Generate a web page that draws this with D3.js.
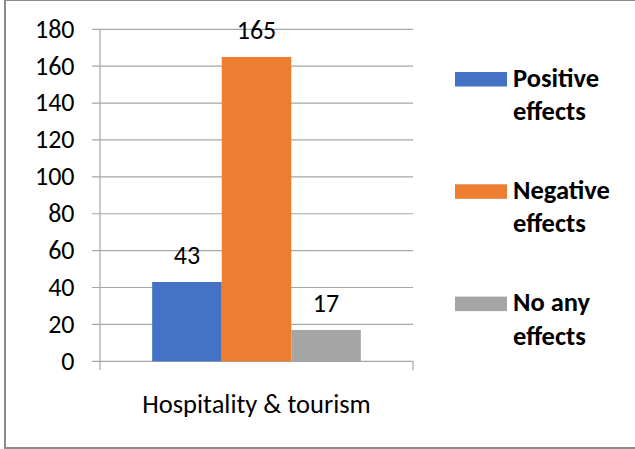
<!DOCTYPE html>
<html>
<head>
<meta charset="utf-8">
<script src="https://cdn.jsdelivr.net/npm/d3@7"></script>
<style>
  body { margin: 0; background: #fff; }
  svg text { font-family: Carlito, Lato, "Open Sans", sans-serif; fill: #000; }
</style>
</head>
<body>
<svg id="chart"></svg>
<script>
// Data
const categories = ["Hospitality & tourism"];
const seriesNames = ["Positive effects", "Negative effects", "No any effects"];
const seriesColors = ["#4472c4", "#ed7d31", "#a5a5a5"];
const seriesValues = [43, 165, 17];
const yTicks = [0, 20, 40, 60, 80, 100, 120, 140, 160, 180];

const width = 635;
const height = 449;

const svg = d3.select("#chart")
  .attr("width", width)
  .attr("height", height);

// Outer frame (right edge cropped off in the original)
svg.append("rect")
  .attr("x", 5)
  .attr("y", 0)
  .attr("width", 640)
  .attr("height", 448)
  .attr("fill", "none")
  .attr("stroke", "#8c8c8c")
  .attr("stroke-width", 2);

const plotLeft = 100, plotRight = 413, plotTop = 29.3, plotBottom = 361.3;

const y = d3.scaleLinear().domain([0, 180]).range([plotBottom, plotTop]);
const x0 = d3.scaleBand().domain(categories).range([plotLeft, plotRight]).paddingInner(0).paddingOuter(0.25);
const x1 = d3.scaleBand().domain(seriesNames).range([0, x0.bandwidth()]).padding(0);

// Gridlines + y tick marks
svg.append("g")
  .selectAll("line")
  .data(yTicks)
  .join("line")
  .attr("x1", plotLeft - 8)
  .attr("x2", plotRight)
  .attr("y1", d => y(d))
  .attr("y2", d => y(d))
  .attr("stroke", "#a6a6a6")
  .attr("stroke-width", 1.2);

// Y axis line
svg.append("line")
  .attr("x1", plotLeft).attr("x2", plotLeft)
  .attr("y1", plotTop).attr("y2", plotBottom + 9)
  .attr("stroke", "#a6a6a6").attr("stroke-width", 1.2);

// Right end tick on the category axis
svg.append("line")
  .attr("x1", plotRight).attr("x2", plotRight)
  .attr("y1", plotBottom).attr("y2", plotBottom + 9)
  .attr("stroke", "#a6a6a6").attr("stroke-width", 1.2);

// Y tick labels
svg.append("g")
  .selectAll("text")
  .data(yTicks)
  .join("text")
  .attr("x", 74.5)
  .attr("y", d => y(d))
  .attr("dy", "0.32em")
  .attr("text-anchor", "end")
  .style("font-size", "26px")
  .text(d => d);

// Bars
const bars = svg.append("g")
  .selectAll("g")
  .data(categories)
  .join("g")
  .attr("transform", d => `translate(${x0(d)},0)`);

bars.selectAll("rect")
  .data(seriesNames.map((s, i) => ({ s, v: seriesValues[i], c: seriesColors[i] })))
  .join("rect")
  .attr("x", d => x1(d.s))
  .attr("y", d => y(d.v))
  .attr("width", x1.bandwidth())
  .attr("height", d => plotBottom - y(d.v))
  .attr("fill", d => d.c);

// Value labels
bars.selectAll("text.val")
  .data(seriesNames.map((s, i) => ({ s, v: seriesValues[i] })))
  .join("text")
  .attr("class", "val")
  .attr("x", d => x1(d.s) + x1.bandwidth() / 2)
  .attr("y", d => y(d.v) - 18)
  .attr("text-anchor", "middle")
  .style("font-size", "26px")
  .text(d => d.v);

// Category label
svg.append("text")
  .attr("x", x0(categories[0]) + x0.bandwidth() / 2)
  .attr("y", 413)
  .attr("text-anchor", "middle")
  .style("font-size", "26.5px")
  .text(categories[0]);

// Legend
const legend = svg.append("g").attr("transform", "translate(455,72)");
seriesNames.forEach((name, i) => {
  const g = legend.append("g").attr("transform", `translate(0,${i * 112.3})`);
  g.append("rect")
    .attr("width", 52)
    .attr("height", 14.5)
    .attr("fill", seriesColors[i]);
  const words = name.split(" ");
  const lines = [words.slice(0, -1).join(" "), words[words.length - 1]];
  lines.forEach((ln, j) => {
    g.append("text")
      .attr("x", 58)
      .attr("y", 14.5 + j * 33.5)
      .style("font-size", "26.5px")
      .style("font-weight", "bold")
      .text(ln);
  });
});
</script>
</body>
</html>
